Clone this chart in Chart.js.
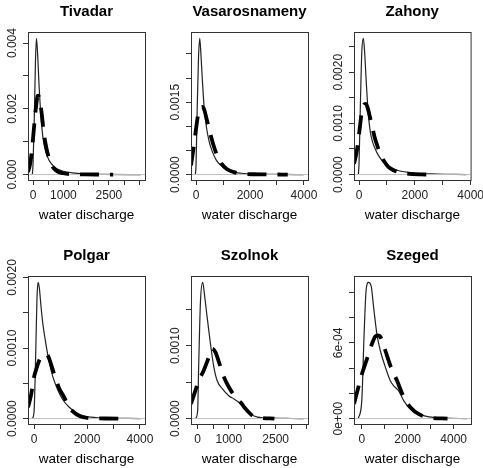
<!DOCTYPE html>
<html>
<head>
<meta charset="utf-8">
<script src="https://cdn.jsdelivr.net/npm/chart.js@4.4.0/dist/chart.umd.min.js"></script>
<style>
  html, body { margin: 0; padding: 0; background: #fff; }
  #wrap { position: relative; width: 483px; height: 468px; overflow: hidden; background: #fff; }
  #wrap canvas { position: absolute; }
</style>
</head>
<body>
<div id="wrap">
  <canvas id="p0" width="161" height="234" style="left:0px;top:0px"></canvas>
  <canvas id="p1" width="161" height="234" style="left:163px;top:0px"></canvas>
  <canvas id="p2" width="161" height="234" style="left:326px;top:0px"></canvas>
  <canvas id="p3" width="161" height="234" style="left:0px;top:244px"></canvas>
  <canvas id="p4" width="161" height="234" style="left:163px;top:244px"></canvas>
  <canvas id="p5" width="161" height="234" style="left:326px;top:244px"></canvas>
</div>
<script>
// station names (panel titles)
const stations = ['Tivadar', 'Vasarosnameny', 'Zahony', 'Polgar', 'Szolnok', 'Szeged'];

// Tivadar
const tivadarKdeX = [-22, 0, 40, 80, 112, 150, 200, 260, 330, 420, 520, 650, 800, 1000, 1300, 1700, 2300, 3546];
const tivadarKdeY = [0, 0.0003, 0.0016, 0.0034, 0.00414, 0.0037, 0.0027, 0.0018, 0.0011, 0.0007, 0.00045, 0.00028, 0.00017, 0.0001, 0.00005, 0.00002, 0.000005, 0];
const tivadarFitX = [-165, -100, -40, 20, 80, 140, 170, 220, 280, 340, 400, 480, 560, 660, 800, 1000, 1300, 1700, 2200, 2640];
const tivadarFitY = [0.00008, 0.0003, 0.0007, 0.0013, 0.0019, 0.00235, 0.0024, 0.0023, 0.0019, 0.0014, 0.001, 0.00065, 0.0004, 0.00022, 0.0001, 0.00004, 0.00001, 0.000003, 0.000001, 0];

// Vasarosnameny
const vasarosKdeX = [-26, 0, 40, 90, 137, 180, 240, 300, 380, 480, 600, 750, 900, 1100, 1400, 1800, 2400, 3200, 3989];
const vasarosKdeY = [0, 0.0002, 0.0013, 0.0024, 0.00282, 0.0025, 0.0019, 0.0014, 0.001, 0.0007, 0.00048, 0.0003, 0.0002, 0.00011, 0.00005, 0.00002, 0.000008, 0.000002, 0];
const vasarosFitX = [-187, -90, 0, 80, 160, 230, 300, 380, 470, 560, 680, 800, 950, 1150, 1400, 1700, 2100, 2600, 3400];
const vasarosFitY = [0.00019, 0.00056, 0.00095, 0.00125, 0.00138, 0.0014, 0.00135, 0.00118, 0.00098, 0.00078, 0.00055, 0.00037, 0.00022, 0.00011, 0.00005, 0.00002, 0.000006, 0.000002, 0];

// Zahony
const zahonyKdeX = [-25, 0, 50, 100, 156, 200, 260, 330, 400, 480, 580, 700, 850, 1050, 1400, 2000, 2800, 3842];
const zahonyKdeY = [0, 0.0002, 0.0014, 0.0024, 0.00266, 0.0024, 0.0018, 0.0012, 0.00085, 0.00065, 0.0005, 0.00037, 0.00026, 0.00016, 0.00008, 0.00003, 0.00001, 0];
const zahonyFitX = [-180, -100, -40, 20, 100, 170, 230, 300, 380, 460, 550, 650, 760, 900, 1050, 1250, 1500, 1800, 2200, 2620];
const zahonyFitY = [0.00021, 0.0004, 0.0006, 0.00088, 0.00122, 0.00136, 0.00138, 0.00132, 0.00115, 0.00097, 0.00075, 0.00057, 0.0004, 0.00026, 0.00015, 0.00008, 0.00004, 0.000015, 0.000004, 0];

// Polgar
const polgarKdeX = [-65, 0, 64, 110, 152, 200, 260, 330, 420, 520, 620, 720, 880, 1080, 1330, 1600, 1950, 2500, 4026];
const polgarKdeY = [0, 0.0001, 0.00095, 0.0017, 0.00193, 0.00185, 0.0016, 0.00135, 0.00112, 0.0009, 0.00072, 0.00058, 0.00042, 0.00027, 0.00016, 0.00008, 0.00003, 0.00001, 0];
const polgarFitX = [-229, -120, 0, 100, 190, 280, 380, 480, 570, 700, 830, 960, 1140, 1300, 1500, 1700, 1900, 2250, 2700, 3430];
const polgarFitY = [0.00016, 0.00032, 0.00059, 0.00072, 0.00082, 0.00088, 0.0009, 0.00091, 0.00085, 0.0007, 0.00055, 0.00042, 0.0003, 0.00017, 0.00009, 0.00004, 0.000015, 0.000005, 0.000001, 0];

// Szolnok
const szolnokKdeX = [-74, 0, 32, 90, 162, 220, 302, 410, 518, 626, 788, 1004, 1166, 1328, 1490, 1706, 1922, 2400, 3000, 3398];
const szolnokKdeY = [0, 0.0001, 0.0007, 0.0016, 0.00187, 0.0017, 0.0014, 0.00103, 0.00071, 0.00052, 0.00041, 0.00031, 0.00027, 0.00022, 0.00015, 0.00006, 0.00002, 0.000005, 0.000001, 0];
const szolnokFitX = [-213, -76, 32, 194, 356, 464, 572, 680, 842, 1004, 1220, 1382, 1544, 1760, 2030, 2460];
const szolnokFitY = [0.0002, 0.00038, 0.00052, 0.00066, 0.00084, 0.00096, 0.00091, 0.00078, 0.00057, 0.00043, 0.00029, 0.00022, 0.00013, 0.00004, 0.00001, 0];

// Szeged
const szegedKdeX = [-149, 0, 102, 190, 293, 410, 512, 659, 805, 1025, 1244, 1390, 1610, 1830, 2123, 2489, 2928, 3600, 4567];
const szegedKdeY = [0, 0.00014, 0.00067, 0.00102, 0.00108, 0.00105, 0.00089, 0.00067, 0.00054, 0.00041, 0.0003, 0.00026, 0.00022, 0.00014, 0.000075, 0.000035, 0.000013, 0.000003, 0];
const szegedFitX = [-338, -146, 0, 220, 439, 586, 700, 805, 1025, 1244, 1537, 1830, 2123, 2489, 2928, 3733];
const szegedFitY = [0.000115, 0.00025, 0.00035, 0.00047, 0.00059, 0.00065, 0.00066, 0.00065, 0.00054, 0.00042, 0.0003, 0.00017, 0.000088, 0.000035, 0.000008, 0];

// tick positions and the labels R actually printed
const xTicks500 = [0, 500, 1000, 1500, 2000, 2500, 3000, 3500];
const xTicks1000 = [0, 1000, 2000, 3000, 4000];
const xLabels500 = [0, 1000, 2500];
const xLabels1000 = [0, 2000, 4000];
const yTicksTivadar = [0, 0.001, 0.002, 0.003, 0.004];
const yLabelsTivadar = ['0.000', '', '0.002', '', '0.004'];
const yTicksVasaros = [0, 0.0005, 0.001, 0.0015, 0.002, 0.0025];
const yLabelsVasaros = ['0.0000', '', '', '0.0015', '', ''];
const yTicksZahony = [0, 0.0005, 0.001, 0.0015, 0.002, 0.0025];
const yLabelsZahony = ['0.0000', '', '0.0010', '', '0.0020', ''];
const yTicksPolgar = [0, 0.0005, 0.001, 0.0015, 0.002];
const yLabelsPolgar = ['0.0000', '', '0.0010', '', '0.0020'];
const yTicksSzolnok = [0, 0.0005, 0.001, 0.0015];
const yLabelsSzolnok = ['0.0000', '', '0.0010', ''];
const yTicksSzeged = [0, 0.0002, 0.0004, 0.0006, 0.0008, 0.001];
const yLabelsSzeged = ['0e+00', '', '', '6e-04', '', ''];

const FONT = '"Liberation Sans", Arial, Helvetica, sans-serif';

const panels = [
  { id: 'p0', kx: tivadarKdeX, ky: tivadarKdeY, fx: tivadarFitX, fy: tivadarFitY, xMin: -165, xMax: 3688, yPeak: 0.00414, xTicks: xTicks500, xLabels: xLabels500, yTicks: yTicksTivadar, yLabels: yLabelsTivadar },
  { id: 'p1', kx: vasarosKdeX, ky: vasarosKdeY, fx: vasarosFitX, fy: vasarosFitY, xMin: -187, xMax: 4150, yPeak: 0.00282, xTicks: xTicks1000, xLabels: xLabels1000, yTicks: yTicksVasaros, yLabels: yLabelsVasaros },
  { id: 'p2', kx: zahonyKdeX, ky: zahonyKdeY, fx: zahonyFitX, fy: zahonyFitY, xMin: -180, xMax: 3997, yPeak: 0.00266, xTicks: xTicks1000, xLabels: xLabels1000, yTicks: yTicksZahony, yLabels: yLabelsZahony },
  { id: 'p3', kx: polgarKdeX, ky: polgarKdeY, fx: polgarFitX, fy: polgarFitY, xMin: -229, xMax: 4190, yPeak: 0.00193, xTicks: xTicks1000, xLabels: xLabels1000, yTicks: yTicksPolgar, yLabels: yLabelsPolgar },
  { id: 'p4', kx: szolnokKdeX, ky: szolnokKdeY, fx: szolnokFitX, fy: szolnokFitY, xMin: -213, xMax: 3537, yPeak: 0.00187, xTicks: xTicks500, xLabels: xLabels500, yTicks: yTicksSzolnok, yLabels: yLabelsSzolnok },
  { id: 'p5', kx: szegedKdeX, ky: szegedKdeY, fx: szegedFitX, fy: szegedFitY, xMin: -338, xMax: 4756, yPeak: 0.00108, xTicks: xTicks1000, xLabels: xLabels1000, yTicks: yTicksSzeged, yLabels: yLabelsSzeged }
];

function pts(xs, ys) {
  return xs.map((x, i) => ({ x: x, y: ys[i] }));
}

// box around the plot region, like R's box()
const boxPlugin = {
  id: 'rbox',
  afterDraw(chart) {
    const a = chart.chartArea, c = chart.ctx;
    c.save();
    c.strokeStyle = '#333';
    c.lineWidth = 1;
    c.strokeRect(a.left + 0.5, a.top - 0.5, a.right - a.left, a.bottom - a.top + 1);
    c.restore();
  }
};

function makePanel(p, idx) {
  // rotated y tick labels (R las=0)
  const yLabelPlugin = {
    id: 'ylabels',
    afterDraw(chart) {
      const c = chart.ctx, ys = chart.scales.y;
      c.save();
      c.font = '12px ' + FONT;
      c.fillStyle = '#222';
      c.textAlign = 'center';
      c.textBaseline = 'alphabetic';
      p.yTicks.forEach((v, i) => {
        if (!p.yLabels[i]) return;
        c.save();
        c.translate(15.5, ys.getPixelForValue(v));
        c.rotate(-Math.PI / 2);
        c.fillText(p.yLabels[i], 0, 0);
        c.restore();
      });
      c.restore();
    }
  };

  return new Chart(document.getElementById(p.id), {
    type: 'scatter',
    data: {
      datasets: [
        { data: pts(p.fx, p.fy), showLine: true, borderColor: '#000', borderWidth: 3.8, borderDash: [19, 11],
          borderCapStyle: 'butt', pointRadius: 0, cubicInterpolationMode: 'monotone', order: 0 },
        { data: [{ x: p.xMin, y: 0 }, { x: p.xMax, y: 0 }], showLine: true, borderColor: '#bebebe', borderWidth: 1,
          pointRadius: 0, order: 1 },
        { data: pts(p.kx, p.ky), showLine: true, borderColor: '#222', borderWidth: 1.2, pointRadius: 0,
          cubicInterpolationMode: 'monotone', order: 2 }
      ]
    },
    options: {
      responsive: false,
      animation: false,
      events: [],
      layout: { padding: { left: 0, right: 16, top: 0, bottom: 0 } },
      plugins: {
        legend: { display: false },
        tooltip: { enabled: false },
        title: {
          display: true, text: stations[idx], fullSize: false, color: '#000',
          font: { family: FONT, size: 15, weight: 'bold' },
          padding: { top: 3, bottom: 12 }
        }
      },
      scales: {
        x: {
          type: 'linear', min: p.xMin, max: p.xMax,
          afterBuildTicks: s => { s.ticks = p.xTicks.map(v => ({ value: v })); },
          afterFit: s => { s.height = 54; },
          border: { display: false },
          grid: { drawOnChartArea: false, drawTicks: true, tickLength: 5, color: '#333', lineWidth: 1 },
          ticks: {
            autoSkip: false, maxRotation: 0, padding: 3, color: '#222',
            font: { family: FONT, size: 12 },
            callback: v => (p.xLabels.includes(v) ? String(v) : '')
          },
          title: {
            display: true, text: 'water discharge', color: '#000',
            font: { family: FONT, size: 13.5 },
            padding: { top: 0, bottom: 11 }
          }
        },
        y: {
          type: 'linear', min: -0.04 * p.yPeak, max: 1.04 * p.yPeak,
          afterBuildTicks: s => { s.ticks = p.yTicks.map(v => ({ value: v })); },
          afterFit: s => { s.width = 28; },
          border: { display: false },
          grid: { drawOnChartArea: false, drawTicks: true, tickLength: 5, color: '#333', lineWidth: 1 },
          ticks: { display: false }
        }
      }
    },
    plugins: [boxPlugin, yLabelPlugin]
  });
}

panels.forEach((p, i) => makePanel(p, i));
</script>
</body>
</html>
